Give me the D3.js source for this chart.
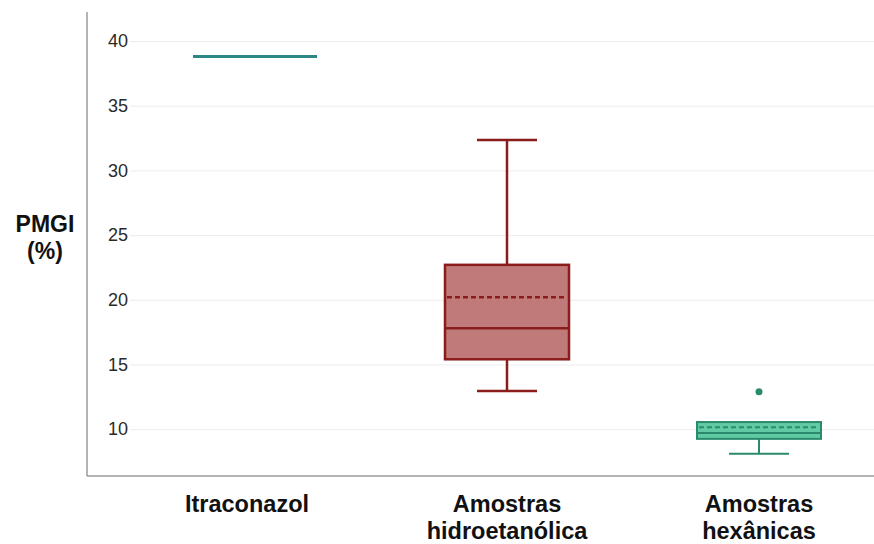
<!DOCTYPE html>
<html>
<head>
<meta charset="utf-8">
<script src="https://cdn.jsdelivr.net/npm/d3@7"></script>
<style>
  html, body { margin: 0; padding: 0; background: #fff; }
  svg { display: block; }
</style>
</head>
<body>
<svg id="chart" width="874" height="544"></svg>
<script>
// ---- data ----
const categories = ["Itraconazol", "Amostras hidroetanólica", "Amostras hexânicas"];
const categoryLines = [["Itraconazol"], ["Amostras", "hidroetanólica"], ["Amostras", "hexânicas"]];
const whiskerLow  = [38.8, 12.95, 8.1];
const q1          = [38.8, 15.4, 9.25];
const median      = [38.8, 17.8, 9.7];
const mean        = [38.8, 20.2, 10.15];
const q3          = [38.8, 22.7, 10.55];
const whiskerHigh = [38.8, 32.35, 10.55];
const outliers    = [[], [], [12.9]];
const yTicks = [10, 15, 20, 25, 30, 35, 40];
const yLabel = ["PMGI", "(%)"];

const strokeColors = ["#2b8686", "#8b1c1c", "#2b8a6c"];
const fillColors   = ["none", "#c17a7a", "#5fcaa3"];

// ---- layout ----
const svg = d3.select("#chart");
const axisX = 87, plotTop = 12, plotBottom = 476, plotRight = 874;

const y = d3.scaleLinear().domain([6.38, 42.24]).range([plotBottom, plotTop]);
const x = d3.scalePoint().domain(categories).range([255, 759]);
const boxW = 124, capW = 60;

// gridlines
svg.append("g")
  .attr("transform", `translate(130,0)`)
  .call(d3.axisRight(y).tickValues(yTicks).tickSize(plotRight - 130).tickFormat(""))
  .call(g => g.select(".domain").remove())
  .call(g => g.selectAll("line").attr("stroke", "#ececec").attr("stroke-width", 1));

// tick labels
svg.append("g")
  .attr("transform", `translate(128,0)`)
  .call(d3.axisLeft(y).tickValues(yTicks).tickSize(0).tickPadding(0))
  .call(g => g.select(".domain").remove())
  .call(g => g.selectAll("text")
    .attr("font-family", "Liberation Sans, Arial, sans-serif")
    .attr("font-size", 18).attr("fill", "#2a2a2a"));

// axis lines
svg.append("line").attr("x1", axisX).attr("x2", axisX).attr("y1", plotTop).attr("y2", plotBottom)
  .attr("stroke", "#9a9a9a").attr("stroke-width", 1.5);
svg.append("line").attr("x1", axisX).attr("x2", plotRight).attr("y1", plotBottom).attr("y2", plotBottom)
  .attr("stroke", "#9a9a9a").attr("stroke-width", 1.5);

// boxes
categories.forEach((c, i) => {
  const cx = x(c);
  const g = svg.append("g");
  const col = strokeColors[i];
  const sw = i === 2 ? 2 : 2.5;
  if (q1[i] === q3[i] && whiskerLow[i] === whiskerHigh[i]) {
    g.append("line").attr("x1", cx - boxW / 2).attr("x2", cx + boxW / 2)
      .attr("y1", y(median[i])).attr("y2", y(median[i]))
      .attr("stroke", col).attr("stroke-width", 3);
    return;
  }
  // whiskers
  if (whiskerHigh[i] > q3[i]) {
    g.append("line").attr("x1", cx).attr("x2", cx).attr("y1", y(q3[i])).attr("y2", y(whiskerHigh[i]))
      .attr("stroke", col).attr("stroke-width", sw);
    g.append("line").attr("x1", cx - capW / 2).attr("x2", cx + capW / 2)
      .attr("y1", y(whiskerHigh[i])).attr("y2", y(whiskerHigh[i]))
      .attr("stroke", col).attr("stroke-width", sw);
  }
  if (whiskerLow[i] < q1[i]) {
    g.append("line").attr("x1", cx).attr("x2", cx).attr("y1", y(q1[i])).attr("y2", y(whiskerLow[i]))
      .attr("stroke", col).attr("stroke-width", sw);
    g.append("line").attr("x1", cx - capW / 2).attr("x2", cx + capW / 2)
      .attr("y1", y(whiskerLow[i])).attr("y2", y(whiskerLow[i]))
      .attr("stroke", col).attr("stroke-width", sw);
  }
  // box
  g.append("rect").attr("x", cx - boxW / 2).attr("width", boxW)
    .attr("y", y(q3[i])).attr("height", y(q1[i]) - y(q3[i]))
    .attr("fill", fillColors[i]).attr("stroke", col).attr("stroke-width", sw);
  // median
  g.append("line").attr("x1", cx - boxW / 2).attr("x2", cx + boxW / 2)
    .attr("y1", y(median[i])).attr("y2", y(median[i]))
    .attr("stroke", col).attr("stroke-width", sw);
  // mean (dashed)
  g.append("line").attr("x1", cx - boxW / 2 + 2).attr("x2", cx + boxW / 2 - 2)
    .attr("y1", y(mean[i])).attr("y2", y(mean[i]))
    .attr("stroke", col).attr("stroke-width", sw).attr("stroke-dasharray", "5,3");
  // outliers
  outliers[i].forEach(v => {
    g.append("circle").attr("cx", cx).attr("cy", y(v)).attr("r", 3.5).attr("fill", col);
  });
});

// category labels
categories.forEach((c, i) => {
  const t = svg.append("text").attr("x", x(c) + (i === 0 ? -8 : 0)).attr("y", 512)
    .attr("text-anchor", "middle")
    .attr("font-family", "Liberation Sans, Arial, sans-serif")
    .attr("font-weight", "bold").attr("font-size", 23.5).attr("fill", "#111");
  categoryLines[i].forEach((line, j) => {
    t.append("tspan").attr("x", x(c) + (i === 0 ? -8 : 0)).attr("y", 512 + j * 27).text(line);
  });
});

// y label
const yl = svg.append("text").attr("text-anchor", "middle")
  .attr("font-family", "Liberation Sans, Arial, sans-serif")
  .attr("font-weight", "bold").attr("font-size", 23).attr("fill", "#111");
yLabel.forEach((line, j) => {
  yl.append("tspan").attr("x", 45).attr("y", 232 + j * 27).text(line);
});
</script>
</body>
</html>
